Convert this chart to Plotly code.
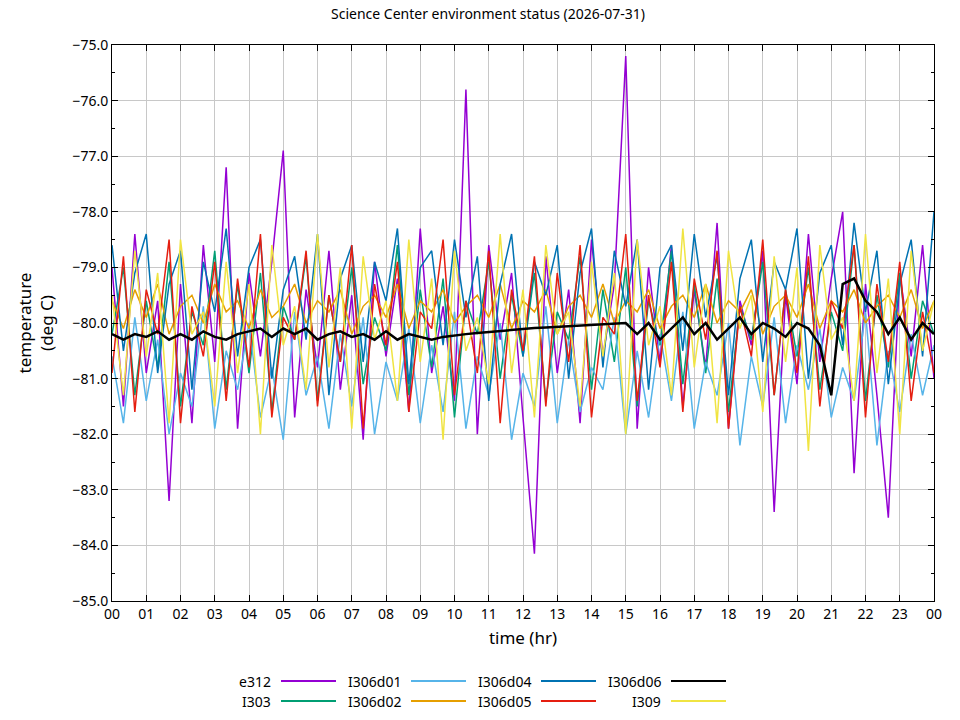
import numpy as np
import plotly.graph_objects as go

title = "Science Center environment status (2026-07-31)"
hour_ticks = list(range(0, 25))
hour_labels = ["%02d" % (h % 24) for h in hour_ticks]

e312 = [-79.0,-81.5,-78.4,-80.9,-79.6,-83.2,-79.3,-81.8,-78.6,-80.7,-77.2,-81.9,-79.1,-80.6,-78.9,-76.9,-81.7,-79.4,-80.8,-78.7,-81.2,-79.5,-82.1,-78.9,-80.6,-79.2,-81.6,-78.3,-80.9,-79.7,-81.4,-75.8,-82.0,-78.6,-80.3,-79.1,-81.7,-84.15,-78.8,-80.9,-79.4,-81.8,-78.5,-80.6,-79.3,-75.2,-81.9,-79.0,-80.7,-78.6,-81.5,-79.4,-80.8,-78.2,-81.9,-79.6,-80.4,-78.7,-83.4,-79.5,-81.1,-78.4,-80.7,-79.2,-78.0,-82.7,-79.3,-81.3,-83.5,-79.1,-80.6,-78.6,-81.0]
I303 = [-80.2,-79.0,-81.3,-79.6,-80.8,-78.9,-81.5,-79.8,-80.4,-78.7,-81.2,-79.3,-80.9,-79.1,-81.6,-79.7,-80.3,-78.8,-81.4,-79.5,-80.7,-79.0,-81.1,-79.9,-80.5,-78.6,-81.3,-79.4,-80.8,-79.2,-81.7,-79.6,-80.2,-78.9,-81.0,-79.5,-80.6,-79.1,-81.4,-79.8,-80.3,-78.8,-81.2,-79.4,-80.7,-79.0,-81.5,-79.6,-80.4,-78.7,-81.1,-79.3,-80.9,-79.2,-81.6,-79.7,-80.3,-78.9,-81.3,-79.4,-80.6,-79.0,-81.2,-79.8,-80.5,-78.6,-81.4,-79.5,-80.8,-79.1,-81.0,-79.6,-80.2]
I306d01 = [-80.6,-81.8,-79.9,-81.4,-80.3,-82.0,-80.9,-81.5,-79.7,-81.9,-80.5,-81.2,-80.0,-81.7,-80.8,-82.1,-79.8,-81.3,-80.6,-81.9,-80.2,-81.5,-79.9,-82.0,-80.7,-81.4,-80.1,-81.8,-80.4,-81.6,-79.8,-81.9,-80.6,-81.3,-80.0,-82.1,-80.9,-81.5,-79.7,-81.8,-80.3,-81.6,-80.8,-81.2,-79.9,-82.0,-80.5,-81.7,-80.2,-81.4,-79.8,-81.9,-80.7,-81.3,-80.0,-82.2,-80.6,-81.5,-79.9,-81.8,-80.4,-81.2,-80.1,-81.7,-80.8,-81.4,-79.8,-82.2,-80.5,-81.6,-80.2,-81.3,-80.4]
I306d02 = [-79.6,-80.1,-79.4,-79.9,-79.3,-80.2,-79.7,-79.5,-80.0,-79.3,-79.8,-79.6,-80.1,-79.4,-79.9,-79.7,-79.3,-80.0,-79.6,-79.8,-79.4,-80.2,-79.7,-79.5,-79.9,-79.3,-80.1,-79.6,-79.8,-79.4,-80.0,-79.7,-79.5,-79.9,-79.3,-80.1,-79.6,-79.8,-79.4,-80.2,-79.7,-79.5,-79.9,-79.3,-80.0,-79.6,-79.8,-79.4,-80.1,-79.7,-79.5,-79.9,-79.3,-80.0,-79.6,-79.8,-79.4,-80.2,-79.7,-79.5,-79.9,-79.3,-80.1,-79.6,-79.8,-79.4,-80.0,-79.7,-79.5,-79.9,-79.4,-80.1,-79.6]
I306d04 = [-78.6,-80.5,-79.1,-78.4,-80.9,-79.3,-78.7,-81.2,-78.9,-79.8,-78.3,-80.6,-79.0,-78.5,-81.0,-79.4,-78.8,-80.3,-78.4,-81.3,-79.2,-78.6,-80.7,-78.9,-79.6,-78.3,-81.1,-79.0,-78.7,-80.4,-78.5,-79.9,-78.8,-81.4,-79.3,-78.4,-80.6,-78.9,-79.5,-78.6,-81.0,-79.1,-78.3,-80.8,-78.7,-79.7,-78.5,-81.2,-79.0,-78.6,-80.5,-78.4,-79.9,-78.8,-81.3,-79.2,-78.5,-80.7,-78.9,-79.4,-78.3,-81.0,-79.1,-78.6,-80.4,-78.2,-79.8,-78.7,-81.1,-79.3,-78.5,-80.6,-78.0]
I306d05 = [-80.9,-78.8,-81.6,-79.4,-80.2,-78.5,-81.8,-79.7,-80.6,-78.9,-81.4,-79.2,-80.8,-78.4,-81.7,-79.9,-80.3,-78.7,-81.5,-79.5,-80.7,-78.6,-81.9,-79.3,-80.4,-78.9,-81.6,-79.8,-80.1,-78.5,-81.3,-79.6,-80.9,-78.7,-81.8,-79.4,-80.5,-78.8,-81.5,-79.1,-80.7,-78.6,-81.7,-79.9,-80.2,-78.4,-81.4,-79.5,-80.8,-78.9,-81.6,-79.2,-80.3,-78.7,-81.9,-79.7,-80.6,-78.5,-81.3,-79.4,-80.9,-78.8,-81.5,-79.6,-80.1,-78.6,-81.7,-79.3,-80.7,-78.9,-81.4,-79.8,-80.9]
I309 = [-79.5,-81.3,-78.7,-80.6,-79.1,-81.8,-78.5,-80.2,-79.8,-81.5,-78.9,-80.9,-79.3,-82.0,-78.6,-80.4,-79.7,-81.2,-78.4,-80.8,-79.0,-81.9,-78.8,-80.3,-79.6,-81.4,-78.5,-80.7,-79.2,-82.1,-78.7,-80.5,-79.9,-81.1,-78.4,-80.9,-79.4,-81.7,-78.6,-80.2,-79.8,-81.5,-78.9,-80.6,-79.1,-82.0,-78.5,-80.4,-79.7,-81.3,-78.3,-80.8,-79.3,-81.8,-78.7,-80.1,-79.5,-81.6,-78.8,-80.7,-79.0,-82.3,-78.6,-80.3,-79.9,-81.4,-78.4,-80.9,-79.2,-82.0,-78.7,-80.5,-79.6]
I306d06 = [-80.2,-80.3,-80.2,-80.25,-80.15,-80.3,-80.2,-80.3,-80.15,-80.25,-80.3,-80.2,-80.15,-80.1,-80.25,-80.1,-80.2,-80.1,-80.3,-80.2,-80.15,-80.25,-80.2,-80.3,-80.15,-80.3,-80.2,-80.25,-80.3,-80.25,-80.22,-80.2,-80.18,-80.16,-80.14,-80.12,-80.1,-80.09,-80.08,-80.07,-80.06,-80.05,-80.04,-80.03,-80.02,-80.0,-80.2,-80.0,-80.3,-80.1,-79.9,-80.2,-80.0,-80.3,-80.1,-79.9,-80.2,-80.0,-80.1,-80.25,-80.0,-80.1,-80.4,-81.3,-79.3,-79.2,-79.6,-79.8,-80.2,-79.9,-80.3,-80.0,-80.2]

# name, values, colour, legend row, legend column
series = [
    ("e312", e312, "#9400d3", 0, 0),
    ("I303", I303, "#009e73", 1, 0),
    ("I306d01", I306d01, "#56b4e9", 0, 1),
    ("I306d02", I306d02, "#e69f00", 1, 1),
    ("I306d04", I306d04, "#0072b2", 0, 2),
    ("I306d05", I306d05, "#e51e10", 1, 2),
    ("I309", I309, "#f0e442", 1, 3),
    ("I306d06", I306d06, "#000000", 0, 3),
]

fig = go.Figure()
for name, vals, color, row, col in series:
    hours = np.linspace(0, 24, len(vals))
    fig.add_trace(go.Scatter(x=hours, y=vals, mode="lines", name=name,
                             line=dict(color=color, width=2.5 if name == "I306d06" else 1.5),
                             showlegend=False))

# gnuplot-style key: label then line sample
W = 822.0
H = 556.0
for name, vals, color, row, col in series:
    tx = (272 + 130 * col - 111) / W
    ty = -(80 + 20 * row) / H
    fig.add_annotation(x=tx, y=ty, xref="paper", yref="paper", text=name,
                       showarrow=False, xanchor="right", yanchor="middle",
                       font=dict(size=14, color="black"))
    fig.add_shape(type="line", xref="paper", yref="paper",
                  x0=tx + 8 / W, x1=tx + 63 / W, y0=ty, y1=ty,
                  line=dict(color=color, width=2))

axis_common = dict(showgrid=True, gridcolor="#c8c8c8", gridwidth=1,
                   showline=True, linecolor="black", mirror="ticks",
                   ticks="inside", ticklen=6, tickcolor="black",
                   zeroline=False, tickfont=dict(size=14, color="black"))

fig.update_layout(
    width=960, height=720,
    margin=dict(l=104, r=34, t=37, b=127),
    paper_bgcolor="white", plot_bgcolor="white",
    font=dict(family="Noto Sans, DejaVu Sans", size=14, color="black"),
    title=dict(text=title, x=0.5, xanchor="center", y=0.991, yanchor="middle",
               font=dict(size=14)),
    xaxis=dict(range=[0, 24], tickvals=hour_ticks, ticktext=hour_labels,
               title=dict(text="time (hr)", standoff=10), **axis_common),
    yaxis=dict(range=[-85, -75], dtick=1, tickformat=".1f",
               minor=dict(dtick=0.5, ticks="inside", ticklen=3, tickcolor="black"),
               title=dict(text="temperature<br>(deg C)", standoff=14), **axis_common),
)

fig.write_html("out.html")
